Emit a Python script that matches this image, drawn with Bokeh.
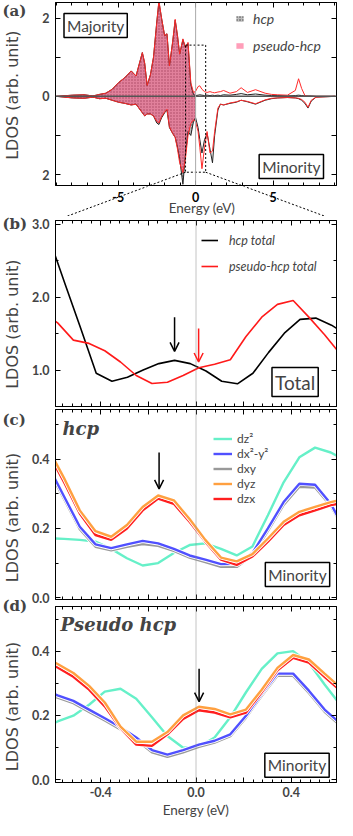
import numpy as np
from bokeh.plotting import figure
from bokeh.layouts import column, row
from bokeh.models import (Span, Label, Arrow, OpenHead, Legend, LegendItem,
                          FixedTicker, LinearAxis, Range1d, Title)
from bokeh.core.properties import value
from bokeh.embed import file_html
from bokeh.resources import INLINE

# ---------------- data ----------------
# (a) spin-resolved LDOS over a wide energy window (majority > 0, minority < 0)
A_E = [-8.99, -7.96, -7.20, -6.63, -6.21, -5.80, -5.39, -4.98, -4.57, -4.16,
       -3.85, -3.44, -3.29, -3.13, -2.92, -2.72, -2.51, -2.37, -2.20, -2.00,
       -1.85, -1.69, -1.48, -1.32, -1.17, -1.03, -0.82, -0.66, -0.49, -0.31,
       -0.14, 0.00, 0.16, 0.27, 0.41, 0.58, 0.74, 0.93, 1.09, 1.23,
       1.44, 1.60, 1.81, 2.22, 2.63, 2.94, 3.35, 3.87, 4.49, 4.90,
       5.31, 5.93, 6.44, 6.65, 6.85, 7.06, 7.26, 7.47, 7.78, 9.01]
A_HCP_MAJ = [0.0, 0.03, 0.04, 0.01, 0.05, 0.08, 0.18, 0.35, 0.48, 0.65,
             0.52, 1.12, 0.85, 0.28, 0.55, 1.0, 1.9, 2.42, 2.0, 1.55,
             1.6, 0.78, 1.4, 1.95, 1.55, 1.08, 1.45, 1.25, 1.35, 0.3,
             0.05, 0.02, 0.03, 0.04, 0.03, 0.02, 0.03, 0.02, 0.03, 0.02,
             0.03, 0.02, 0.04, 0.03, 0.05, 0.07, 0.04, 0.06, 0.03, 0.02,
             0.02, 0.01, 0.02, 0.03, 0.02, 0.01, 0.01, 0.01, 0.0, 0.0]
A_PS_MAJ = [0.0, 0.03, 0.04, 0.01, 0.05, 0.08, 0.18, 0.35, 0.48, 0.65,
            0.52, 1.12, 0.85, 0.28, 0.55, 1.0, 1.88, 2.45, 2.0, 1.55,
            1.6, 0.78, 1.4, 1.97, 1.55, 1.08, 1.47, 1.25, 1.38, 0.35,
            0.1, 0.13, 0.25, 0.27, 0.18, 0.12, 0.1, 0.12, 0.1, 0.09,
            0.11, 0.12, 0.15, 0.08, 0.12, 0.22, 0.1, 0.17, 0.08, 0.05,
            0.04, 0.03, 0.15, 0.45, 0.2, 0.02, 0.0, 0.0, 0.0, 0.0]
A_HCP_MIN = [0.0, -0.04, -0.05, -0.02, -0.06, -0.05, -0.1, -0.15, -0.18, -0.22,
             -0.2, -0.42, -0.5, -0.45, -0.45, -0.5, -0.68, -0.72, -0.55, -0.42,
             -0.35, -0.8, -0.95, -1.05, -1.3, -1.6, -2.25, -1.5, -0.9, -1.0,
             -0.65, -0.55, -0.8, -1.1, -1.45, -1.1, -0.95, -1.35, -1.7, -1.0,
             -0.35, -0.2, -0.22, -0.18, -0.15, -0.1, -0.14, -0.2, -0.1, -0.06,
             -0.04, -0.03, -0.04, -0.06, -0.1, -0.18, -0.3, -0.12, -0.02, 0.0]
A_PS_MIN = [0.0, -0.04, -0.05, -0.02, -0.06, -0.05, -0.1, -0.15, -0.18, -0.22,
            -0.2, -0.42, -0.5, -0.45, -0.45, -0.5, -0.64, -0.68, -0.52, -0.4,
            -0.33, -0.78, -0.95, -1.05, -1.35, -1.7, -1.95, -1.6, -1.0, -0.7,
            -0.6, -0.65, -0.9, -1.3, -1.85, -1.3, -0.9, -1.45, -1.4, -0.9,
            -0.3, -0.2, -0.22, -0.17, -0.14, -0.1, -0.13, -0.19, -0.09, -0.05,
            -0.04, -0.03, -0.04, -0.05, -0.08, -0.15, -0.28, -0.1, -0.02, 0.0]
A_TICK_LABELS_Y = {-2: "2", -1: "", 0: "0", 1: "", 2: "2"}
A_X_TICKS = [-5, 0, 5]
A_X_TICK_TEXT = ["-5", "0", "5"]
ZOOM_BOX = dict(left=-0.65, right=0.65, bottom=-1.94, top=1.31)

# (b) total LDOS near E_F
B_E_HCP = [-0.617, -0.551, -0.485, -0.419, -0.353, -0.288, -0.222, -0.156, -0.090, -0.024,
           0.042, 0.108, 0.174, 0.239, 0.305, 0.371, 0.437, 0.503, 0.569, 0.634]
B_HCP_TOTAL = [2.81, 2.19, 1.58, 0.956, 0.846, 0.90, 1.0, 1.088, 1.132, 1.088,
               0.987, 0.846, 0.811, 0.956, 1.242, 1.505, 1.695, 1.712, 1.615, 1.484]
B_E_PS = [-0.647, -0.581, -0.515, -0.449, -0.383, -0.317, -0.251, -0.185, -0.120, -0.054,
          0.012, 0.078, 0.144, 0.210, 0.276, 0.342, 0.408, 0.474, 0.540, 0.606]
B_PS_TOTAL = [1.81, 1.646, 1.41, 1.365, 1.264, 1.11, 0.925, 0.815, 0.833, 0.925,
              1.03, 1.08, 1.14, 1.46, 1.725, 1.90, 1.954, 1.725, 1.484, 1.22]
B_ARROWS = [(-0.09, 1.725, 1.255, "black"), (0.011, 1.571, 1.11, "#ff1a1a")]

# (c) hcp, minority d-orbital LDOS
C_E = [-0.620, -0.554, -0.488, -0.422, -0.356, -0.290, -0.224, -0.159, -0.093, -0.027,
       0.039, 0.105, 0.171, 0.237, 0.302, 0.368, 0.434, 0.500, 0.566, 0.632]
C_DZ2 = [0.172, 0.170, 0.167, 0.162, 0.141, 0.114, 0.093, 0.100, 0.129, 0.152,
         0.157, 0.141, 0.122, 0.148, 0.238, 0.333, 0.405, 0.433, 0.419, 0.395]
C_DX2Y2 = [0.38, 0.292, 0.205, 0.154, 0.143, 0.154, 0.164, 0.157, 0.141, 0.122,
           0.110, 0.097, 0.098, 0.129, 0.200, 0.276, 0.329, 0.326, 0.271, 0.188]
C_DXY = [0.37, 0.285, 0.198, 0.147, 0.137, 0.147, 0.155, 0.150, 0.135, 0.116,
         0.103, 0.089, 0.089, 0.122, 0.193, 0.268, 0.320, 0.318, 0.265, 0.185]
C_DYZ = [0.43, 0.345, 0.252, 0.192, 0.176, 0.210, 0.262, 0.295, 0.281, 0.227,
         0.167, 0.116, 0.105, 0.126, 0.171, 0.219, 0.248, 0.262, 0.276, 0.286]
C_DZX = [0.419, 0.333, 0.243, 0.181, 0.167, 0.200, 0.252, 0.286, 0.271, 0.219,
         0.162, 0.110, 0.095, 0.119, 0.162, 0.210, 0.238, 0.252, 0.267, 0.276]
C_ARROW = (-0.155, 0.419, 0.314)

# (d) pseudo hcp, minority d-orbital LDOS
D_E = [-0.647, -0.581, -0.515, -0.449, -0.383, -0.317, -0.251, -0.185, -0.120, -0.054,
       0.012, 0.078, 0.144, 0.210, 0.276, 0.342, 0.408, 0.474, 0.540, 0.606]
D_DZ2 = [0.160, 0.181, 0.199, 0.233, 0.274, 0.283, 0.252, 0.194, 0.136, 0.099,
         0.102, 0.131, 0.194, 0.272, 0.345, 0.393, 0.400, 0.364, 0.296, 0.233]
D_DX2Y2 = [0.282, 0.262, 0.245, 0.218, 0.191, 0.163, 0.131, 0.092, 0.078, 0.092,
           0.109, 0.121, 0.141, 0.199, 0.267, 0.330, 0.330, 0.277, 0.218, 0.175]
D_DXY = [0.275, 0.255, 0.238, 0.211, 0.184, 0.156, 0.124, 0.085, 0.071, 0.085,
         0.102, 0.115, 0.135, 0.193, 0.261, 0.323, 0.323, 0.270, 0.211, 0.168]
D_DYZ = [0.385, 0.360, 0.332, 0.292, 0.240, 0.165, 0.118, 0.118, 0.148, 0.200,
         0.227, 0.220, 0.203, 0.218, 0.280, 0.348, 0.388, 0.374, 0.330, 0.287]
D_DZX = [0.376, 0.349, 0.320, 0.280, 0.228, 0.160, 0.109, 0.105, 0.141, 0.189,
         0.216, 0.209, 0.194, 0.209, 0.272, 0.340, 0.379, 0.364, 0.320, 0.277]
D_ARROW = (0.013, 0.345, 0.243)

ORB_NAMES = ["dz\u00b2", "dx\u00b2-y\u00b2", "dxy", "dyz", "dzx"]
ORB_COLORS = ["#66f0c8", "#5050ff", "#999999", "#ffa040", "#ff1f1f"]
SMALL_X_TICKS = {-0.4: "-0.4", -0.2: "", 0: "0.0", 0.2: "", 0.4: "0.4"}
SMALL_Y_TICKS = {0: "0.0", 0.2: "0.2", 0.4: "0.4"}
B_Y_TICKS = {1: "1.0", 2: "2.0", 3: "3.0"}
PANEL_TAGS = ["(a)", "(b)", "(c)", "(d)"]

# ---------------- layout geometry (global canvas px) ----------------
LW = 28            # left column with panel tags and y titles
RW = 337 - LW      # plot column
FL, FR = 55, 336   # frame left / right (global)
GEO = {
    "a": dict(top=0, H=186, bt=2, bb=1, xr=(-9.05, 9.1), yr=(-2.28, 2.4)),
    "b": dict(top=216, H=191, bt=4, bb=1, xr=(-0.59, 0.59), yr=(0.5, 3.05)),
    "c": dict(top=407, H=199, bt=2, bb=7, xr=(-0.59, 0.59), yr=(-0.005, 0.543)),
    "d": dict(top=606, H=214, bt=0, bb=38, xr=(-0.59, 0.59), yr=(-0.009, 0.539)),
}
GAP_TOP, GAP_H = 186, 30


def frame(g):
    return FL, FR, g["top"] + g["bt"], g["top"] + g["H"] - g["bb"]


def d2px(g, x, y):
    x0, x1, y0, y1 = frame(g)
    px = x0 + (x - g["xr"][0]) / (g["xr"][1] - g["xr"][0]) * (x1 - x0)
    py = y1 - (y - g["yr"][0]) / (g["yr"][1] - g["yr"][0]) * (y1 - y0)
    return px, py


def px2d(g, px, py):
    x0, x1, y0, y1 = frame(g)
    x = g["xr"][0] + (px - x0) / (x1 - x0) * (g["xr"][1] - g["xr"][0])
    y = g["yr"][0] + (y1 - py) / (y1 - y0) * (g["yr"][1] - g["yr"][0])
    return x, y


TICK_FONT = "Lato"


def style_axis(ax, ticker, overrides=None, labels=True, standoff=5):
    ax.ticker = ticker
    ax.major_tick_in = 5
    ax.major_tick_out = 0
    ax.minor_tick_in = 3
    ax.minor_tick_out = 0
    ax.axis_line_color = "black"
    ax.major_tick_line_color = "black"
    ax.minor_tick_line_color = "black"
    if labels:
        ax.major_label_text_font = TICK_FONT
        ax.major_label_text_font_style = "bold"
        ax.major_label_text_font_size = "12.5px"
        ax.major_label_standoff = standoff
        if overrides:
            ax.major_label_overrides = overrides
    else:
        ax.major_label_text_font_size = "0px"
        ax.major_label_standoff = 0


def make_fig(key, xticker, yticker, xover=None, yover=None, xlabels=False,
             xstand=4, ystand=6):
    g = GEO[key]
    p = figure(width=RW, height=g["H"], x_range=Range1d(*g["xr"]),
               y_range=Range1d(*g["yr"]), output_backend="svg",
               toolbar_location=None, min_border_left=FL - LW,
               min_border_right=LW + RW - FR, min_border_top=g["bt"],
               min_border_bottom=g["bb"], background_fill_color="white",
               border_fill_color="white")
    p.outline_line_color = "black"
    p.outline_line_width = 1
    p.grid.visible = False
    style_axis(p.xaxis[0], xticker, xover, labels=xlabels, standoff=xstand)
    style_axis(p.yaxis[0], yticker, yover, labels=True, standoff=ystand)
    top = LinearAxis()
    style_axis(top, xticker, labels=False)
    p.add_layout(top, "above")
    right = LinearAxis()
    style_axis(right, yticker, labels=False)
    p.add_layout(right, "right")
    return p


def add_label(p, g, px, py, text, font, size, style="normal", align="left",
              baseline="top", box=False):
    kw = {}
    if box:
        kw = dict(border_line_color="black", border_line_width=1.5,
                  background_fill_color="white", padding=3)
    x, y = px2d(g, px, py)
    p.add_layout(Label(x=x, y=y, text=text, text_font=font,
                       text_font_size=size, text_font_style=style,
                       text_align=align, text_baseline=baseline, **kw))


def zero_line(p, color="#888888", dash="1 1"):
    p.add_layout(Span(location=0, dimension="height", line_color=color,
                      line_width=1, line_dash=dash))


def blank_fig(width, height, x_range, y_range, **kw):
    p = figure(width=width, height=height, x_range=x_range, y_range=y_range,
               output_backend="svg", toolbar_location=None,
               x_axis_location=None, y_axis_location=None,
               background_fill_color="white", border_fill_color="white", **kw)
    p.outline_line_color = None
    p.grid.visible = False
    return p


# ---------------- left column: panel tags and y-axis titles ----------------
lf = blank_fig(LW, 820, Range1d(0, LW), Range1d(820, 0), min_border=0)
for tag, ty, yc in zip(PANEL_TAGS, [1, 214, 410, 596.5], [94.7, 323.7, 517, 706]):
    lf.add_layout(Label(x=2, y=ty, text=tag, text_font="DejaVu Serif",
                        text_font_size="15px", text_font_style="bold",
                        text_align="left", text_baseline="top"))
    lf.add_layout(Label(x=12, y=yc, text="LDOS (arb. unit)", text_font="DejaVu Sans",
                        text_font_size="16px", text_align="center",
                        text_baseline="middle", angle=np.pi / 2))

# ---------------- panel (a) ----------------
ga = GEO["a"]
pa = make_fig("a",
              FixedTicker(ticks=A_X_TICKS, minor_ticks=list(range(-9, 10))),
              FixedTicker(ticks=[-2, -1, 0, 1, 2]),
              yover=A_TICK_LABELS_Y, xlabels=False)
ae = np.array(A_E)
occ = ae <= 0
fill_h = dict(fill_color="#bdbdbd", hatch_pattern="dot", hatch_color="#3a3a3a",
              hatch_scale=3, hatch_weight=1)
hcp_maj_fill = pa.varea(x=ae[occ], y1=0, y2=np.array(A_HCP_MAJ)[occ], **fill_h)
pa.varea(x=ae[occ], y1=0, y2=np.array(A_HCP_MIN)[occ], **fill_h)
fill_p = dict(fill_color="#ff4f80", fill_alpha=0.55)
ps_maj_fill = pa.varea(x=ae[occ], y1=0, y2=np.array(A_PS_MAJ)[occ], **fill_p)
pa.varea(x=ae[occ], y1=0, y2=np.array(A_PS_MIN)[occ], **fill_p)
pa.line(ae, A_HCP_MAJ, line_color="#222222", line_width=1)
pa.line(ae, A_HCP_MIN, line_color="#222222", line_width=1)
pa.line(ae, A_PS_MAJ, line_color="#ff2a2a", line_width=1)
pa.line(ae, A_PS_MIN, line_color="#ff2a2a", line_width=1)
pa.add_layout(Span(location=0, dimension="width", line_color="#555555", line_width=1.5))
zero_line(pa, color="#aaaaaa", dash="solid")
pa.quad(left=[ZOOM_BOX["left"]], right=[ZOOM_BOX["right"]],
        bottom=[ZOOM_BOX["bottom"]], top=[ZOOM_BOX["top"]],
        fill_color=None, line_color="black", line_dash="2 2", line_width=1)
leg_a = Legend(items=[LegendItem(label="hcp", renderers=[hcp_maj_fill]),
                      LegendItem(label="pseudo-hcp", renderers=[ps_maj_fill])],
               location=(180, 131), background_fill_alpha=0, border_line_color=None,
               padding=2, spacing=10, margin=0, label_text_font="Lato",
               label_text_font_style="italic", label_text_font_size="14px",
               glyph_width=9, glyph_height=7, label_height=16, label_standoff=9)
pa.add_layout(leg_a)
add_label(pa, ga, 63.5, 25, "Majority", "Lato", "15.5px", align="left",
          baseline="middle", box=True)
add_label(pa, ga, 323, 166, "Minority", "Lato", "15.5px", align="right",
          baseline="middle", box=True)

# ---------------- gap strip below (a): x tick labels, x title, zoom connectors ----
gf = blank_fig(RW, GAP_H, pa.x_range, Range1d(GAP_TOP + GAP_H, GAP_TOP),
               min_border_left=FL - LW, min_border_right=LW + RW - FR,
               min_border_top=0, min_border_bottom=0)
gf.text(x=A_X_TICKS, y=[GAP_TOP + 10] * len(A_X_TICKS), text=A_X_TICK_TEXT,
        text_align="center", text_baseline="middle", text_font=value("Lato"),
        text_font_style="bold", text_font_size="12.5px", text_color="black")
gf.add_layout(Label(x=px2d(ga, 201.5, 0)[0], y=GAP_TOP + 21, text="Energy (eV)",
                    text_font="Lato", text_font_size="13.5px", text_align="center",
                    text_baseline="middle"))

gb = GEO["b"]
bx0, bx1, by0, by1 = frame(gb)
for bxd, tx in [(ZOOM_BOX["left"], bx0), (ZOOM_BOX["right"], bx1)]:
    sx, sy = d2px(ga, bxd, ZOOM_BOX["bottom"])
    ex_a, ey_a = px2d(ga, tx, by0)
    # same straight connector drawn in (a) and in the strip; each clips it to its frame
    pa.line([bxd, ex_a], [ZOOM_BOX["bottom"], ey_a], line_color="black",
            line_dash="2 2", line_width=1)
    gf.line([bxd, ex_a], [sy, by0], line_color="black", line_dash="2 2", line_width=1)

# ---------------- panel (b) ----------------
small_x = FixedTicker(ticks=[-0.4, -0.2, 0, 0.2, 0.4],
                      minor_ticks=[round(-0.6 + 0.04 * i, 2) for i in range(31)])
pb = make_fig("b", small_x, FixedTicker(ticks=[1, 2, 3], minor_ticks=[0.5, 1.5, 2.5]),
              yover=B_Y_TICKS)
zero_line(pb)
rb1 = pb.line(B_E_HCP, B_HCP_TOTAL, line_color="black", line_width=1.6)
rb2 = pb.line(B_E_PS, B_PS_TOTAL, line_color="#ff1a1a", line_width=1.6)
for xa, y0, y1, col in B_ARROWS:
    pb.add_layout(Arrow(end=OpenHead(size=9, line_color=col, line_width=1.5),
                        x_start=xa, y_start=y0, x_end=xa, y_end=y1,
                        line_color=col, line_width=1.5))
leg_b = Legend(items=[LegendItem(label="hcp total", renderers=[rb1]),
                      LegendItem(label="pseudo-hcp total", renderers=[rb2])],
               location=(146, 132), background_fill_alpha=0, border_line_color=None,
               padding=2, spacing=10, margin=0, label_text_font="Lato",
               label_text_font_style="italic", label_text_font_size="12.5px",
               glyph_width=17, glyph_height=16, label_height=16, label_standoff=11)
pb.add_layout(leg_b)
add_label(pb, gb, 294.6, 381.6, "Total", "Lato", "19px", align="center",
          baseline="middle", box=True)


# ---------------- panels (c), (d) ----------------
def orbital_panel(key, e, series, arrow, title, title_px, with_legend):
    g = GEO[key]
    p = make_fig(key, small_x, FixedTicker(ticks=[0, 0.2, 0.4], minor_ticks=[0.1, 0.3, 0.5]),
                 xover=SMALL_X_TICKS, yover=SMALL_Y_TICKS, xlabels=(key == "d"))
    zero_line(p)
    rends = {}
    for idx in [0, 2, 1, 4, 3]:
        p.line(e, series[idx], line_color="white", line_width=4.2)
        rends[idx] = p.line(e, series[idx], line_color=ORB_COLORS[idx], line_width=2.4)
    xa, y0, y1 = arrow
    p.add_layout(Arrow(end=OpenHead(size=9, line_color="black", line_width=1.5),
                       x_start=xa, y_start=y0, x_end=xa, y_end=y1,
                       line_color="black", line_width=1.5))
    if with_legend:
        leg = Legend(items=[LegendItem(label=ORB_NAMES[i], renderers=[rends[i]])
                            for i in range(5)],
                     location=(158, 93), background_fill_alpha=0, border_line_color=None,
                     padding=2, spacing=0, margin=0, label_text_font="Lato",
                     label_text_font_size="12px", glyph_width=19, glyph_height=15,
                     label_height=15, label_standoff=5)
        p.add_layout(leg)
    add_label(p, g, title_px[0], title_px[1], title, "DejaVu Serif", "18px",
              style="bold italic", baseline="alphabetic")
    return p


pc = orbital_panel("c", C_E, [C_DZ2, C_DX2Y2, C_DXY, C_DYZ, C_DZX], C_ARROW,
                   "hcp", (62, 427.7), True)
add_label(pc, GEO["c"], 297, 574, "Minority", "Lato", "15.5px", align="center",
          baseline="middle", box=True)

pd_ = orbital_panel("d", D_E, [D_DZ2, D_DX2Y2, D_DXY, D_DYZ, D_DZX], D_ARROW,
                    "Pseudo hcp", (60, 624), False)
add_label(pd_, GEO["d"], 296.5, 764.7, "Minority", "Lato", "15.5px", align="center",
          baseline="middle", box=True)
pd_.add_layout(Title(text="Energy (eV)", align="center", offset=9, text_font="Lato",
                     text_font_size="13.5px", text_font_style="normal",
                     standoff=0), "below")

layout = row(lf, column(pa, gf, pb, pc, pd_, spacing=0), spacing=0)
open("out.html", "w").write(file_html(layout, INLINE))
